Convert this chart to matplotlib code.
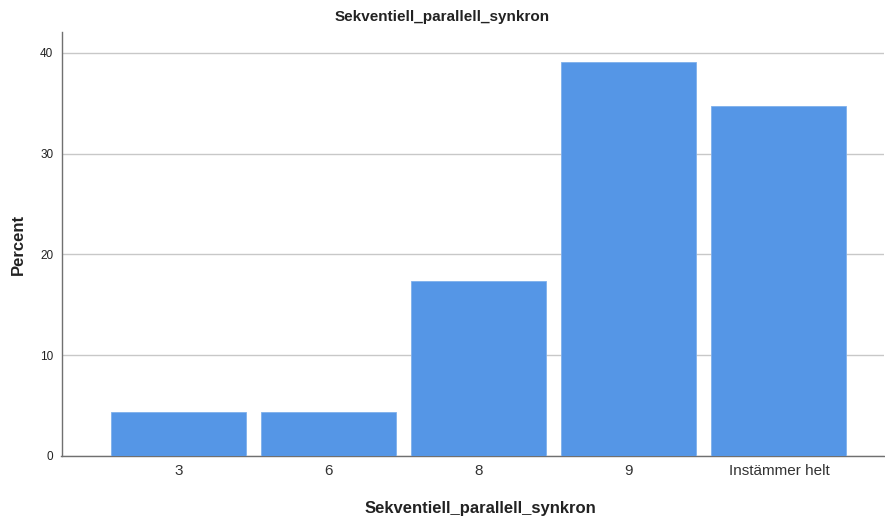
import matplotlib
matplotlib.use("Agg")
import matplotlib.pyplot as plt

categories = ["3", "6", "8", "9", "Instämmer helt"]
percent = [4.35, 4.35, 17.39, 39.13, 34.78]
yticks = [0, 10, 20, 30, 40]
title = "Sekventiell_parallell_synkron"
xlabel = "Sekventiell_parallell_synkron"
ylabel = "Percent"

plt.rcParams['font.family'] = ['Liberation Sans', 'DejaVu Sans']

fig = plt.figure(figsize=(8.85, 5.2), dpi=100)
W, H = 885, 520
ax = fig.add_axes([61.5 / W, (H - 456) / H, (884 - 61.5) / W, (456 - 32) / H])

x = list(range(len(categories)))
ax.bar(x, percent, width=0.9, color="#5596E6", edgecolor="#7FB0EC", linewidth=0.6, zorder=3)

ax.set_xlim(-0.78, 4.70)
ax.set_ylim(0, 42.08)
ax.set_yticks(yticks)
ax.set_xticks(x)
ax.set_xticklabels(categories)
ax.yaxis.grid(True, color="#C8C8C8", linewidth=1.0, zorder=0)
ax.set_axisbelow(True)

for s in ["top", "right"]:
    ax.spines[s].set_visible(False)
for s in ["left", "bottom"]:
    ax.spines[s].set_color("#707070")
    ax.spines[s].set_linewidth(1.0)

ax.tick_params(axis="y", length=0, pad=6, labelsize=8.5, labelcolor="#222222")
ax.tick_params(axis="x", length=0, pad=6, labelsize=11, labelcolor="#333333")

fig.text(442 / W, 1 - 17 / H, title, ha="center", va="center",
         fontsize=11, fontweight="bold", color="#222222")
fig.text(480 / W, 1 - 508 / H, xlabel, ha="center", va="center",
         fontsize=12, fontweight="bold", color="#222222")
fig.text(18 / W, 1 - 244 / H, ylabel, ha="center", va="center", rotation=90,
         fontsize=12, fontweight="bold", color="#222222")

fig.savefig("out.png", dpi=100)
